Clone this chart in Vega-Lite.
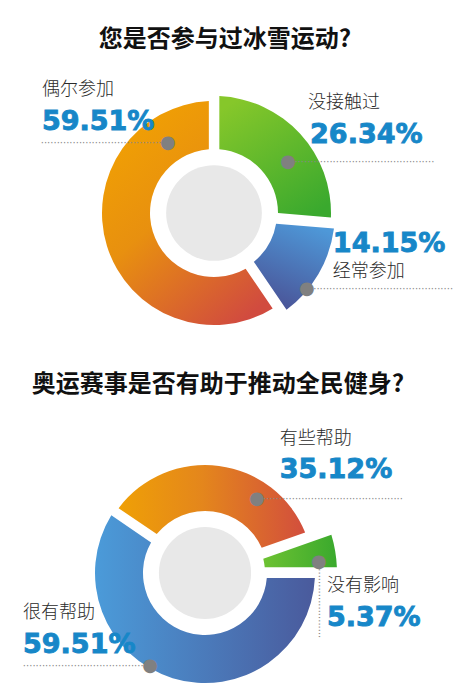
{
  "$schema": "https://vega.github.io/schema/vega-lite/v6.json",
  "padding": {"top": 28, "left": 0, "right": 0, "bottom": 0},
  "spacing": 10,
  "config": {
    "view": {"stroke": null},
    "title": {"font": "Noto Sans CJK SC", "fontSize": 24, "fontWeight": "bold", "color": "#111111", "anchor": "middle"},
    "text": {"font": "Noto Sans CJK SC", "fontSize": 18, "fontWeight": 300, "color": "#2A2A2A"}
  },
  "vconcat": [
    {
      "title": {"text": "您是否参与过冰雪运动?", "dx": 11, "offset": 11},
      "width": 428,
      "height": 300,
      "data": {
        "values": [
          {"label": "没接触过", "share": 0.2634},
          {"label": "经常参加", "share": 0.1415},
          {"label": "偶尔参加", "share": 0.5951}
        ]
      },
      "transform": [{"stack": "share", "groupby": [], "as": ["v0", "v1"]}],
      "layer": [
        {
          "transform": [{"filter": "datum.v0 == 0"}],
          "mark": {"type": "circle", "size": 9161, "color": "#E8E8E8", "opacity": 1},
          "encoding": {}
        },
        {
          "transform": [{"filter": "datum.label == '没接触过'"}],
          "mark": {"type": "arc", "innerRadius": 64, "outerRadius": 117, "padAngle": 0.08,
            "fill": {"gradient": "linear", "x1": 0.2, "y1": 0, "x2": 0.8, "y2": 1,
              "stops": [{"offset": 0, "color": "#86C72A"}, {"offset": 1, "color": "#3AA92E"}]}},
          "encoding": {
            "theta": {"field": "v0", "type": "quantitative", "stack": null, "scale": {"domain": [0, 1]}},
            "theta2": {"field": "v1"}
          }
        },
        {
          "transform": [{"filter": "datum.label == '经常参加'"}],
          "mark": {"type": "arc", "innerRadius": 63, "outerRadius": 121, "padAngle": 0.08,
            "fill": {"gradient": "linear", "x1": 0.7, "y1": 0, "x2": 0.3, "y2": 1,
              "stops": [{"offset": 0, "color": "#4E98D8"}, {"offset": 1, "color": "#4A5296"}]}},
          "encoding": {
            "theta": {"field": "v0", "type": "quantitative", "stack": null},
            "theta2": {"field": "v1"}
          }
        },
        {
          "transform": [{"filter": "datum.label == '偶尔参加'"}],
          "mark": {"type": "arc", "innerRadius": 64, "outerRadius": 112, "padAngle": 0.08,
            "fill": {"gradient": "linear", "x1": 0.2, "y1": 0.1, "x2": 0.8, "y2": 1,
              "stops": [{"offset": 0, "color": "#F09F04"}, {"offset": 0.4, "color": "#E8900F"}, {"offset": 1, "color": "#D14B3F"}]}},
          "encoding": {
            "theta": {"field": "v0", "type": "quantitative", "stack": null},
            "theta2": {"field": "v1"}
          }
        },
        {
          "transform": [{"filter": "datum.label == '偶尔参加'"}],
          "mark": {"type": "text", "text": "········································", "font": "DejaVu Sans", "fontSize": 10, "fontWeight": "normal", "color": "#888888",
            "align": "right", "baseline": "middle", "radius": 84, "thetaOffset": -0.581},
          "encoding": {"theta": {"field": "v1", "type": "quantitative", "stack": null}}
        },
        {
          "transform": [{"filter": "datum.label == '没接触过'"}],
          "mark": {"type": "text", "text": "··············································", "font": "DejaVu Sans", "fontSize": 10, "fontWeight": "normal", "color": "#888888",
            "align": "left", "baseline": "middle", "radius": 90, "thetaOffset": 0.967},
          "encoding": {"theta": {"field": "v0", "type": "quantitative", "stack": null}}
        },
        {
          "transform": [{"filter": "datum.label == '经常参加'"}],
          "mark": {"type": "text", "text": "··············································", "font": "DejaVu Sans", "fontSize": 10, "fontWeight": "normal", "color": "#888888",
            "align": "left", "baseline": "middle", "radius": 120, "thetaOffset": 0.602},
          "encoding": {"theta": {"field": "v0", "type": "quantitative", "stack": null}}
        },
        {
          "transform": [{"filter": "datum.label == '偶尔参加'"}],
          "mark": {"type": "text", "text": "●", "font": "DejaVu Sans", "fontSize": 18, "fontWeight": "normal", "color": "#808080",
            "align": "center", "baseline": "middle", "radius": 84, "thetaOffset": -0.581},
          "encoding": {"theta": {"field": "v1", "type": "quantitative", "stack": null}}
        },
        {
          "transform": [{"filter": "datum.label == '没接触过'"}],
          "mark": {"type": "text", "text": "●", "font": "DejaVu Sans", "fontSize": 18, "fontWeight": "normal", "color": "#808080",
            "align": "center", "baseline": "middle", "radius": 90, "thetaOffset": 0.967},
          "encoding": {"theta": {"field": "v0", "type": "quantitative", "stack": null}}
        },
        {
          "transform": [{"filter": "datum.label == '经常参加'"}],
          "mark": {"type": "text", "text": "●", "font": "DejaVu Sans", "fontSize": 18, "fontWeight": "normal", "color": "#808080",
            "align": "center", "baseline": "middle", "radius": 120, "thetaOffset": 0.602},
          "encoding": {"theta": {"field": "v0", "type": "quantitative", "stack": null}}
        },
        {
          "transform": [{"filter": "datum.label == '偶尔参加'"}],
          "mark": {"type": "text", "align": "left", "baseline": "middle", "radius": 84, "thetaOffset": -0.581, "dx": -126, "dy": -53},
          "encoding": {"theta": {"field": "v1", "type": "quantitative", "stack": null}, "text": {"field": "label"}}
        },
        {
          "transform": [{"filter": "datum.label == '偶尔参加'"}],
          "mark": {"type": "text", "font": "DejaVu Sans", "fontSize": 27, "fontWeight": "bold", "color": "#1787C8", "stroke": "#1787C8", "strokeWidth": 0.9,
            "align": "left", "baseline": "alphabetic", "radius": 84, "thetaOffset": -0.581, "dx": -126, "dy": -13},
          "encoding": {"theta": {"field": "v1", "type": "quantitative", "stack": null}, "text": {"field": "share", "format": ".2%"}}
        },
        {
          "transform": [{"filter": "datum.label == '没接触过'"}],
          "mark": {"type": "text", "align": "left", "baseline": "middle", "radius": 90, "thetaOffset": 0.967, "dx": 20, "dy": -59},
          "encoding": {"theta": {"field": "v0", "type": "quantitative", "stack": null}, "text": {"field": "label"}}
        },
        {
          "transform": [{"filter": "datum.label == '没接触过'"}],
          "mark": {"type": "text", "font": "DejaVu Sans", "fontSize": 27, "fontWeight": "bold", "color": "#1787C8", "stroke": "#1787C8", "strokeWidth": 0.9,
            "align": "left", "baseline": "alphabetic", "radius": 90, "thetaOffset": 0.967, "dx": 22, "dy": -19},
          "encoding": {"theta": {"field": "v0", "type": "quantitative", "stack": null}, "text": {"field": "share", "format": ".2%"}}
        },
        {
          "transform": [{"filter": "datum.label == '经常参加'"}],
          "mark": {"type": "text", "font": "DejaVu Sans", "fontSize": 27, "fontWeight": "bold", "color": "#1787C8", "stroke": "#1787C8", "strokeWidth": 0.9,
            "align": "left", "baseline": "alphabetic", "radius": 120, "thetaOffset": 0.602, "dx": 26, "dy": -37},
          "encoding": {"theta": {"field": "v0", "type": "quantitative", "stack": null}, "text": {"field": "share", "format": ".2%"}}
        },
        {
          "transform": [{"filter": "datum.label == '经常参加'"}],
          "mark": {"type": "text", "align": "left", "baseline": "middle", "radius": 120, "thetaOffset": 0.602, "dx": 26, "dy": -17},
          "encoding": {"theta": {"field": "v0", "type": "quantitative", "stack": null}, "text": {"field": "label"}}
        }
      ]
    },
    {
      "title": {"text": "奥运赛事是否有助于推动全民健身?", "dx": 13, "offset": 33},
      "width": 410,
      "height": 270,
      "data": {
        "values": [
          {"label": "很有帮助", "share": 0.5951},
          {"label": "有些帮助", "share": 0.3512},
          {"label": "没有影响", "share": 0.0537}
        ]
      },
      "transform": [{"stack": "share", "groupby": [], "as": ["v0", "v1"]}],
      "layer": [
        {
          "transform": [{"filter": "datum.v0 == 0"}],
          "mark": {"type": "circle", "size": 8495, "color": "#E8E8E8", "opacity": 1},
          "encoding": {}
        },
        {
          "transform": [{"filter": "datum.label == '很有帮助'"}],
          "mark": {"type": "arc", "innerRadius": 62, "outerRadius": 110, "padAngle": 0.08,
            "fill": {"gradient": "linear", "x1": 0, "y1": 0.5, "x2": 1, "y2": 0.5,
              "stops": [{"offset": 0, "color": "#4B9BD9"}, {"offset": 1, "color": "#4A5A9C"}]}},
          "encoding": {
            "theta": {"field": "v0", "type": "quantitative", "stack": null, "scale": {"domain": [0, 1], "range": [1.5708, 7.854]}},
            "theta2": {"field": "v1"}
          }
        },
        {
          "transform": [{"filter": "datum.label == '有些帮助'"}],
          "mark": {"type": "arc", "innerRadius": 62, "outerRadius": 108, "padAngle": 0.08,
            "fill": {"gradient": "linear", "x1": 0, "y1": 0.5, "x2": 1, "y2": 0.5,
              "stops": [{"offset": 0, "color": "#EFA006"}, {"offset": 0.45, "color": "#E4861C"}, {"offset": 1, "color": "#D24E3D"}]}},
          "encoding": {
            "theta": {"field": "v0", "type": "quantitative", "stack": null},
            "theta2": {"field": "v1"}
          }
        },
        {
          "transform": [{"filter": "datum.label == '没有影响'"}],
          "mark": {"type": "arc", "innerRadius": 60, "outerRadius": 132, "padAngle": 0.08,
            "fill": {"gradient": "linear", "x1": 0, "y1": 0.5, "x2": 1, "y2": 0.5,
              "stops": [{"offset": 0, "color": "#6DC232"}, {"offset": 1, "color": "#3AA92D"}]}},
          "encoding": {
            "theta": {"field": "v0", "type": "quantitative", "stack": null},
            "theta2": {"field": "v1"}
          }
        },
        {
          "transform": [{"filter": "datum.label == '有些帮助'"}],
          "mark": {"type": "text", "text": "··············································", "font": "DejaVu Sans", "fontSize": 10, "fontWeight": "normal", "color": "#888888",
            "align": "left", "baseline": "middle", "radius": 90, "thetaOffset": -0.621},
          "encoding": {"theta": {"field": "v1", "type": "quantitative", "stack": null}}
        },
        {
          "transform": [{"filter": "datum.label == '没有影响'"}],
          "mark": {"type": "text", "text": "························", "font": "DejaVu Sans", "fontSize": 10, "fontWeight": "normal", "color": "#888888",
            "align": "left", "baseline": "middle", "angle": 90, "radius": 114.5, "thetaOffset": 0.241},
          "encoding": {"theta": {"field": "v0", "type": "quantitative", "stack": null}}
        },
        {
          "transform": [{"filter": "datum.label == '很有帮助'"}],
          "mark": {"type": "text", "text": "········································", "font": "DejaVu Sans", "fontSize": 10, "fontWeight": "normal", "color": "#888888",
            "align": "right", "baseline": "middle", "radius": 108, "thetaOffset": 2.105},
          "encoding": {"theta": {"field": "v0", "type": "quantitative", "stack": null}}
        },
        {
          "transform": [{"filter": "datum.label == '有些帮助'"}],
          "mark": {"type": "text", "text": "●", "font": "DejaVu Sans", "fontSize": 18, "fontWeight": "normal", "color": "#808080",
            "align": "center", "baseline": "middle", "radius": 90, "thetaOffset": -0.621},
          "encoding": {"theta": {"field": "v1", "type": "quantitative", "stack": null}}
        },
        {
          "transform": [{"filter": "datum.label == '没有影响'"}],
          "mark": {"type": "text", "text": "●", "font": "DejaVu Sans", "fontSize": 18, "fontWeight": "normal", "color": "#808080",
            "align": "center", "baseline": "middle", "radius": 114.5, "thetaOffset": 0.241},
          "encoding": {"theta": {"field": "v0", "type": "quantitative", "stack": null}}
        },
        {
          "transform": [{"filter": "datum.label == '很有帮助'"}],
          "mark": {"type": "text", "text": "●", "font": "DejaVu Sans", "fontSize": 18, "fontWeight": "normal", "color": "#808080",
            "align": "center", "baseline": "middle", "radius": 108, "thetaOffset": 2.105},
          "encoding": {"theta": {"field": "v0", "type": "quantitative", "stack": null}}
        },
        {
          "transform": [{"filter": "datum.label == '有些帮助'"}],
          "mark": {"type": "text", "align": "left", "baseline": "middle", "radius": 90, "thetaOffset": -0.621, "dx": 23, "dy": -60},
          "encoding": {"theta": {"field": "v1", "type": "quantitative", "stack": null}, "text": {"field": "label"}}
        },
        {
          "transform": [{"filter": "datum.label == '有些帮助'"}],
          "mark": {"type": "text", "font": "DejaVu Sans", "fontSize": 27, "fontWeight": "bold", "color": "#1787C8", "stroke": "#1787C8", "strokeWidth": 0.9,
            "align": "left", "baseline": "alphabetic", "radius": 90, "thetaOffset": -0.621, "dx": 23, "dy": -21},
          "encoding": {"theta": {"field": "v1", "type": "quantitative", "stack": null}, "text": {"field": "share", "format": ".2%"}}
        },
        {
          "transform": [{"filter": "datum.label == '没有影响'"}],
          "mark": {"type": "text", "align": "left", "baseline": "middle", "radius": 114.5, "thetaOffset": 0.241, "dx": 8, "dy": 24},
          "encoding": {"theta": {"field": "v0", "type": "quantitative", "stack": null}, "text": {"field": "label"}}
        },
        {
          "transform": [{"filter": "datum.label == '没有影响'"}],
          "mark": {"type": "text", "font": "DejaVu Sans", "fontSize": 27, "fontWeight": "bold", "color": "#1787C8", "stroke": "#1787C8", "strokeWidth": 0.9,
            "align": "left", "baseline": "alphabetic", "radius": 114.5, "thetaOffset": 0.241, "dx": 8, "dy": 64},
          "encoding": {"theta": {"field": "v0", "type": "quantitative", "stack": null}, "text": {"field": "share", "format": ".2%"}}
        },
        {
          "transform": [{"filter": "datum.label == '很有帮助'"}],
          "mark": {"type": "text", "align": "left", "baseline": "middle", "radius": 108, "thetaOffset": 2.105, "dx": -127, "dy": -53},
          "encoding": {"theta": {"field": "v0", "type": "quantitative", "stack": null}, "text": {"field": "label"}}
        },
        {
          "transform": [{"filter": "datum.label == '很有帮助'"}],
          "mark": {"type": "text", "font": "DejaVu Sans", "fontSize": 27, "fontWeight": "bold", "color": "#1787C8", "stroke": "#1787C8", "strokeWidth": 0.9,
            "align": "left", "baseline": "alphabetic", "radius": 108, "thetaOffset": 2.105, "dx": -127, "dy": -13},
          "encoding": {"theta": {"field": "v0", "type": "quantitative", "stack": null}, "text": {"field": "share", "format": ".2%"}}
        }
      ]
    }
  ]
}
